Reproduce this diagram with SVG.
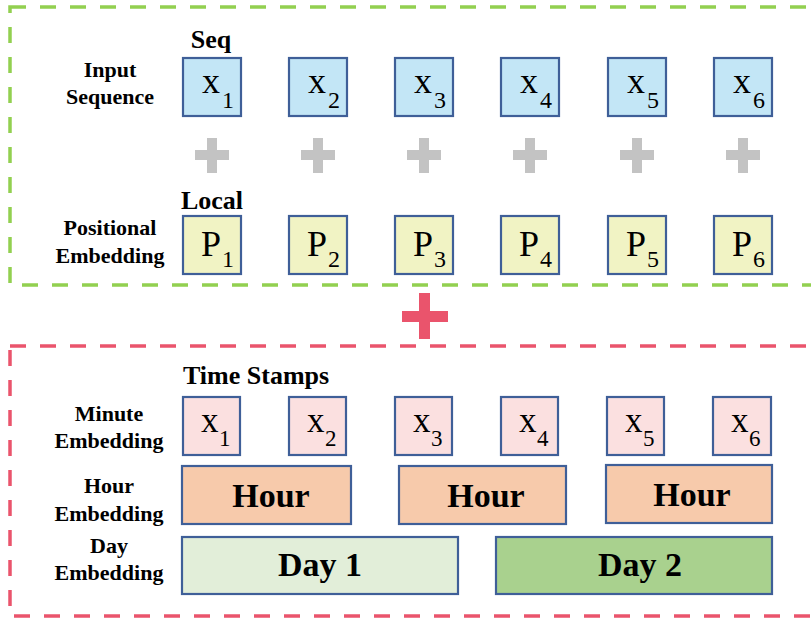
<svg xmlns="http://www.w3.org/2000/svg" width="811" height="619" viewBox="0 0 811 619">
<style>
.lbl{font-family:"Liberation Serif","Times New Roman",serif;font-weight:bold;font-size:22px;text-anchor:middle;fill:#000}
.ttl{font-family:"Liberation Serif","Times New Roman",serif;font-weight:bold;font-size:26px;fill:#000}
.big{font-family:"Liberation Serif","Times New Roman",serif;font-size:36px;fill:#000}
.sub{font-size:24px}
.mid{font-family:"Liberation Serif","Times New Roman",serif;font-size:35px;fill:#000}
.msub{font-size:23px}
.band{font-family:"Liberation Serif","Times New Roman",serif;font-weight:bold;font-size:34px;text-anchor:middle;fill:#000}
.box{stroke:#3f5f98;stroke-width:2.2}
.seq{fill:#c3e6f6}
.pos{fill:#f1f3c4}
.min{fill:#fbe0e0}
.hour{fill:#f7caab}
.day1{fill:#e2eed9}
.day2{fill:#a9d18e}
.gplus{fill:#c3c3c3}
.rplus{fill:#ea546c}
.dgreen{fill:none;stroke:#92d050;stroke-width:3.5;stroke-dasharray:16 14}
.dred{fill:none;stroke:#ea546c;stroke-width:3.5;stroke-dasharray:16 14}
</style>
<g id="frames">
<rect id="frame-local" class="dgreen" x="10" y="7" width="820" height="278"/>
<rect id="frame-time" class="dred" x="10" y="346" width="820" height="270"/>
</g>
<g id="labels">
<text class="ttl" x="211" y="48" text-anchor="middle">Seq</text>
<text class="ttl" x="212" y="209" text-anchor="middle">Local</text>
<text class="ttl" x="183" y="384">Time Stamps</text>
<text class="lbl" x="110" y="77">Input</text>
<text class="lbl" x="110" y="104">Sequence</text>
<text class="lbl" x="110" y="235">Positional</text>
<text class="lbl" x="110" y="263">Embedding</text>
<text class="lbl" x="109" y="421">Minute</text>
<text class="lbl" x="109" y="448">Embedding</text>
<text class="lbl" x="109" y="493">Hour</text>
<text class="lbl" x="109" y="521">Embedding</text>
<text class="lbl" x="109" y="553">Day</text>
<text class="lbl" x="109" y="580">Embedding</text>
</g>
<g id="input-sequence">
<g id="seq-x1"><rect class="box seq" x="183" y="58" width="58" height="58"/><text class="big" x="202" y="93">x<tspan class="sub" x="222" y="108">1</tspan></text></g>
<g id="seq-x2"><rect class="box seq" x="289" y="58" width="58" height="58"/><text class="big" x="308" y="93">x<tspan class="sub" x="328" y="108">2</tspan></text></g>
<g id="seq-x3"><rect class="box seq" x="395" y="58" width="58" height="58"/><text class="big" x="414" y="93">x<tspan class="sub" x="434" y="108">3</tspan></text></g>
<g id="seq-x4"><rect class="box seq" x="501" y="58" width="58" height="58"/><text class="big" x="520" y="93">x<tspan class="sub" x="540" y="108">4</tspan></text></g>
<g id="seq-x5"><rect class="box seq" x="608" y="58" width="58" height="58"/><text class="big" x="627" y="93">x<tspan class="sub" x="647" y="108">5</tspan></text></g>
<g id="seq-x6"><rect class="box seq" x="714" y="58" width="58" height="58"/><text class="big" x="733" y="93">x<tspan class="sub" x="753" y="108">6</tspan></text></g>
</g>
<g id="plus-signs">
<path class="gplus" d="M195 150h12v-12h10v12h12v10h-12v13h-10v-13h-12z"/>
<path class="gplus" d="M301 150h12v-12h10v12h12v10h-12v13h-10v-13h-12z"/>
<path class="gplus" d="M407 150h12v-12h10v12h12v10h-12v13h-10v-13h-12z"/>
<path class="gplus" d="M513 150h12v-12h10v12h12v10h-12v13h-10v-13h-12z"/>
<path class="gplus" d="M620 150h12v-12h10v12h12v10h-12v13h-10v-13h-12z"/>
<path class="gplus" d="M726 150h12v-12h10v12h12v10h-12v13h-10v-13h-12z"/>
<path class="rplus" d="M402 311h17v-18h11v18h18v11h-18v17h-11v-17h-17z"/>
</g>
<g id="positional-embedding">
<g id="pos-p1"><rect class="box pos" x="183" y="216" width="58" height="58"/><text class="big" x="201" y="256">P<tspan class="sub" x="222" y="267">1</tspan></text></g>
<g id="pos-p2"><rect class="box pos" x="289" y="216" width="58" height="58"/><text class="big" x="307" y="256">P<tspan class="sub" x="328" y="267">2</tspan></text></g>
<g id="pos-p3"><rect class="box pos" x="395" y="216" width="58" height="58"/><text class="big" x="413" y="256">P<tspan class="sub" x="434" y="267">3</tspan></text></g>
<g id="pos-p4"><rect class="box pos" x="501" y="216" width="58" height="58"/><text class="big" x="519" y="256">P<tspan class="sub" x="540" y="267">4</tspan></text></g>
<g id="pos-p5"><rect class="box pos" x="608" y="216" width="58" height="58"/><text class="big" x="626" y="256">P<tspan class="sub" x="647" y="267">5</tspan></text></g>
<g id="pos-p6"><rect class="box pos" x="714" y="216" width="58" height="58"/><text class="big" x="732" y="256">P<tspan class="sub" x="753" y="267">6</tspan></text></g>
</g>
<g id="minute-embedding">
<g id="min-x1"><rect class="box min" x="183" y="397" width="57" height="58"/><text class="mid" x="201" y="432">x<tspan class="msub" x="219" y="446">1</tspan></text></g>
<g id="min-x2"><rect class="box min" x="289" y="397" width="57" height="58"/><text class="mid" x="307" y="432">x<tspan class="msub" x="325" y="446">2</tspan></text></g>
<g id="min-x3"><rect class="box min" x="395" y="397" width="57" height="58"/><text class="mid" x="413" y="432">x<tspan class="msub" x="431" y="446">3</tspan></text></g>
<g id="min-x4"><rect class="box min" x="501" y="397" width="57" height="58"/><text class="mid" x="519" y="432">x<tspan class="msub" x="537" y="446">4</tspan></text></g>
<g id="min-x5"><rect class="box min" x="607" y="397" width="57" height="58"/><text class="mid" x="625" y="432">x<tspan class="msub" x="643" y="446">5</tspan></text></g>
<g id="min-x6"><rect class="box min" x="713" y="397" width="58" height="58"/><text class="mid" x="731" y="432">x<tspan class="msub" x="749" y="446">6</tspan></text></g>
</g>
<g id="hour-embedding">
<g id="hour-1"><rect class="box hour" x="182" y="466" width="169" height="58"/><text class="band" x="271" y="507">Hour</text></g>
<g id="hour-2"><rect class="box hour" x="399" y="466" width="167" height="58"/><text class="band" x="486" y="507">Hour</text></g>
<g id="hour-3"><rect class="box hour" x="606" y="465" width="166" height="58"/><text class="band" x="692" y="506">Hour</text></g>
</g>
<g id="day-embedding">
<g id="day-1"><rect class="box day1" x="182" y="537" width="276" height="57"/><text class="band" x="320" y="576">Day 1</text></g>
<g id="day-2"><rect class="box day2" x="496" y="537" width="276" height="57"/><text class="band" x="640" y="576">Day 2</text></g>
</g>
<g id="connectors"/>
</svg>
